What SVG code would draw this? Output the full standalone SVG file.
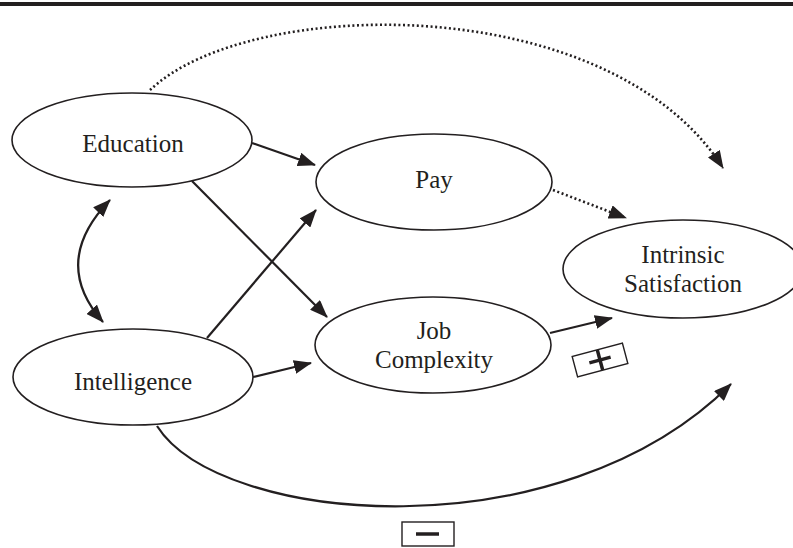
<svg xmlns="http://www.w3.org/2000/svg" width="793" height="548" viewBox="0 0 793 548">
  <style>
    .node { fill: #ffffff; stroke: #231f20; stroke-width: 1.6; }
    .label { font-family: "Liberation Serif", "Times New Roman", serif; font-size: 25px; fill: #231f20; text-anchor: middle; }
    .solid { fill: none; stroke: #231f20; stroke-width: 2.2; }
    .dotted { fill: none; stroke: #231f20; stroke-width: 2.6; stroke-dasharray: 2 2.6; }
    .sign { fill: #ffffff; stroke: #231f20; stroke-width: 1.4; }
    .bar { stroke: #231f20; stroke-width: 3.5; }
  </style>
  <defs>
    <marker id="head" viewBox="0 0 18 14" refX="17" refY="7" markerWidth="18" markerHeight="14" markerUnits="userSpaceOnUse" orient="auto-start-reverse">
      <path d="M0,0 L18,7 L0,14 z" fill="#231f20"/>
    </marker>
  </defs>

  <rect width="793" height="548" fill="#ffffff"/>
  <!-- top rule -->
  <rect x="0" y="2" width="793" height="4" fill="#231f20"/>

  <!-- connectors -->
  <g id="connectors">
    <path class="dotted" d="M150,90 C250,-5 610,-10 723,168" marker-end="url(#head)"/>
    <path class="dotted" d="M553,190 L626,218" marker-end="url(#head)"/>
    <path class="solid" d="M252,143 L315,165" marker-end="url(#head)"/>
    <path class="solid" d="M192,181 L327,317" marker-end="url(#head)"/>
    <path class="solid" d="M207,338 L316,210" marker-end="url(#head)"/>
    <path class="solid" d="M253,377 L311,363" marker-end="url(#head)"/>
    <path class="solid" d="M550,333 L612,318" marker-end="url(#head)"/>
    <path class="solid" d="M110,200 Q50,262 103,322" stroke-width="2.6" marker-start="url(#head)" marker-end="url(#head)"/>
    <path class="solid" d="M157,426 C220,525 560,555 731,384" marker-end="url(#head)"/>
  </g>

  <!-- sign boxes -->
  <g id="plus-sign" transform="translate(600,360) rotate(-15)">
    <rect class="sign" x="-26" y="-10.5" width="52" height="21"/>
    <line class="bar" x1="-11" y1="0" x2="11" y2="0"/>
    <line class="bar" x1="0" y1="-10.5" x2="0" y2="10.5" stroke-width="3"/>
  </g>
  <g id="minus-sign">
    <rect class="sign" x="402" y="522" width="52" height="24"/>
    <line class="bar" x1="416" y1="534" x2="439" y2="534" stroke-width="4"/>
  </g>

  <!-- nodes -->
  <g id="education">
    <ellipse class="node" cx="132" cy="140" rx="120" ry="47"/>
    <text class="label" x="133" y="152">Education</text>
  </g>
  <g id="intelligence">
    <ellipse class="node" cx="133" cy="377" rx="120" ry="48"/>
    <text class="label" x="133" y="390">Intelligence</text>
  </g>
  <g id="pay">
    <ellipse class="node" cx="434" cy="182" rx="118" ry="48"/>
    <text class="label" x="434" y="188">Pay</text>
  </g>
  <g id="job-complexity">
    <ellipse class="node" cx="433" cy="345" rx="118" ry="48"/>
    <text class="label" x="434" y="339">Job</text>
    <text class="label" x="434" y="368">Complexity</text>
  </g>
  <g id="intrinsic-satisfaction">
    <ellipse class="node" cx="683" cy="269" rx="120" ry="49"/>
    <text class="label" x="683" y="263">Intrinsic</text>
    <text class="label" x="683" y="292">Satisfaction</text>
  </g>
</svg>
